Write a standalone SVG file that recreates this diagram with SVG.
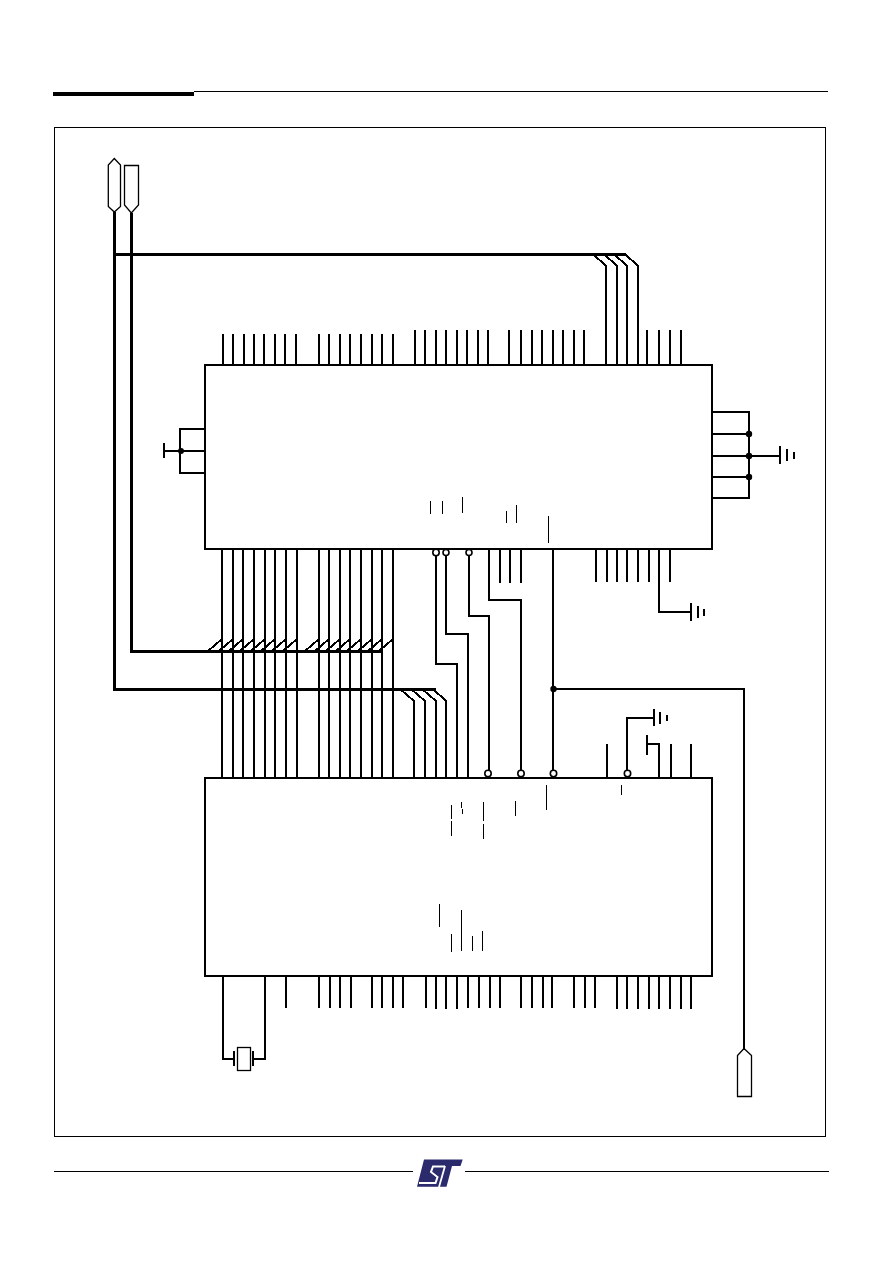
<svg xmlns="http://www.w3.org/2000/svg" width="892" height="1263" viewBox="0 0 892 1263">
<style>
.p{fill:none;stroke:#000;stroke-width:2;shape-rendering:crispEdges}
.b{fill:none;stroke:#000;stroke-width:3;shape-rendering:crispEdges}
.t{fill:none;stroke:#000;stroke-width:1;shape-rendering:crispEdges}
.n{fill:#fff;stroke:#000;stroke-width:2;shape-rendering:crispEdges}
.c{fill:#fff;stroke:#000;stroke-width:1.3}
.o{fill:#fff;stroke:#000;stroke-width:1.6}
.d{fill:#000}
.w{fill:none;stroke:#fff}
</style>
<rect width="892" height="1263" fill="#fff"/>
<g id="page">
<path class="b" d="M53 93.5H194" style="stroke-width:4"/>
<path class="t" d="M194 91.5H828"/>
<rect class="t" x="54.5" y="127.5" width="771" height="1009"/>
<path class="t" d="M54 1171.5H413M465 1171.5H829"/>
<g id="logo">
<path fill="#2a2a6c" d="M424 1159.5H462.7L460.5 1166H452L446.5 1186.7H417Z"/>
<path class="w" stroke-width="2" d="M445 1166.5H433L431 1172L437.5 1177L435.5 1183H419"/>
<path class="w" stroke-width="1.8" d="M445 1166L439 1187"/>
</g>
</g>
<g id="chip1">
<rect class="n" x="205" y="365" width="507" height="184"/>
<path class="t" d="M430.5 501V514M442.5 501V514M462.5 497V513M506.5 511V523M516.5 505V523M548.5 516V543"/>
</g>
<g id="chip2">
<rect class="n" x="205" y="778" width="507" height="198"/>
<path class="t" d="M546.5 785V810M621.5 785V795M515.5 801V816M483.5 802V821M483.5 824V839M451.5 805V819M451.5 821V836M461.5 802V808M462.5 809V814M439.5 904V927M461.5 910V951M451.5 934V952M472.5 936V951M482.5 931V951"/>
</g>
<g id="bus-connector-a"><path class="c" d="M114.3 158.5L120.5 165V206.5L114.3 212L108.3 206.5V165Z"/></g>
<g id="bus-connector-b"><path class="c" d="M124.5 165.5H138.5V205L131.3 213L124.5 205Z"/></g>
<g id="output-connector"><path class="c" d="M744 1048.5L751.5 1055.5V1096.5H737.5V1055.5Z"/></g>
<g id="crystal">
<rect class="c" x="237.5" y="1047.5" width="13" height="23"/>
<path class="p" d="M234 1051V1066M253 1051V1066"/>
</g>
<g id="connectors">
<path class="b" d="M114 212V689H436M131 213V651H382M114 254.5H625"/>
<path class="p" d="M593 254L606 266V365M604 254L617 266V365M614 254L627 266V365M625 254L638 266V365"/>
<path class="p" d="M400 689L414 701V778M411 689L425 701V778M422 689L436 701V778M433 689L446 701V778"/>
<path class="p" d="M208 651L222 639M219 651L233 639M229 651L243 639M240 651L254 639M251 651L265 639M261 651L275 639M272 651L286 639M283 651L297 639M305 651L319 639M315 651L329 639M326 651L340 639M336 651L350 639M347 651L361 639M358 651L372 639M368 651L382 639M379 651L393 639"/>
<path class="p" d="M223 334V365M233 334V365M244 334V365M254 334V365M264 334V365M275 334V365M285 334V365M296 334V365M319 334V365M329 334V365M340 334V365M350 334V365M361 334V365M372 334V365M382 334V365M393 334V365M415 330V365M425 330V365M436 330V365M446 330V365M457 330V365M467 330V365M478 330V365M488 330V365M509 330V365M521 330V365M532 330V365M542 330V365M553 330V365M563 330V365M574 330V365M584 330V365M647 330V365M659 330V365M670 330V365M681 330V365"/>
<path class="p" d="M222 549V778M233 549V778M243 549V778M254 549V778M265 549V778M275 549V778M286 549V778M297 549V778M319 549V778M329 549V778M340 549V778M350 549V778M361 549V778M372 549V778M382 549V778M393 549V778"/>
<path class="p" d="M436 556V664H457V778M446 556V634H468V778M469 556V616H489V770M489 549V600H521V770M553 549V770"/>
<path class="p" d="M500 549V583M510 549V583M521 549V583M596 549V582M607 549V582M617 549V582M627 549V582M638 549V582M649 549V582M670 549V582"/>
<path class="p" d="M659 549V612H691M691 603V621M698 606V618M704 609V616"/>
<path class="p" d="M553 689H744V1050"/>
<path class="p" d="M607 744V778M627 770V718H654M654 709V726M660 712V724M667 715V721M659 778V744H647M647 735V755M671 744V778M691 744V778"/>
<path class="p" d="M205 429H180V473H205M205 451H164M164 443V458"/>
<path class="p" d="M712 412H749V498H712M712 434H749M712 456H780M712 477H749M780 446V464M787 449V461M794 452V459"/>
<path class="p" d="M223 976V1059H234M265 976V1059H253"/>
<path class="p" d="M286 976V1008M319 976V1008M330 976V1008M340 976V1008M351 976V1008M372 976V1008M382 976V1008M393 976V1008M403 976V1008M426 976V1008M436 976V1009M446 976V1009M457 976V1009M468 976V1008M479 976V1008M490 976V1008M500 976V1008M521 976V1008M532 976V1008M543 976V1008M552 976V1008M574 976V1008M585 976V1008M595 976V1008M617 976V1009M627 976V1009M638 976V1009M649 976V1009M659 976V1009M670 976V1009M681 976V1009M691 976V1009"/>
<circle class="d" cx="181" cy="451" r="3"/>
<circle class="d" cx="749" cy="434" r="3.2"/>
<circle class="d" cx="749" cy="456" r="3.2"/>
<circle class="d" cx="749" cy="477" r="3.2"/>
<circle class="d" cx="553.5" cy="689" r="3.2"/>
<circle class="o" cx="436" cy="552.5" r="3.2"/>
<circle class="o" cx="446" cy="552.5" r="3"/>
<circle class="o" cx="469" cy="552.5" r="3"/>
<circle class="o" cx="488" cy="773.5" r="3.2"/>
<circle class="o" cx="521" cy="773.5" r="3.2"/>
<circle class="o" cx="553.5" cy="773.5" r="3.2"/>
<circle class="o" cx="627.5" cy="773.5" r="3.2"/>
</g>
</svg>
